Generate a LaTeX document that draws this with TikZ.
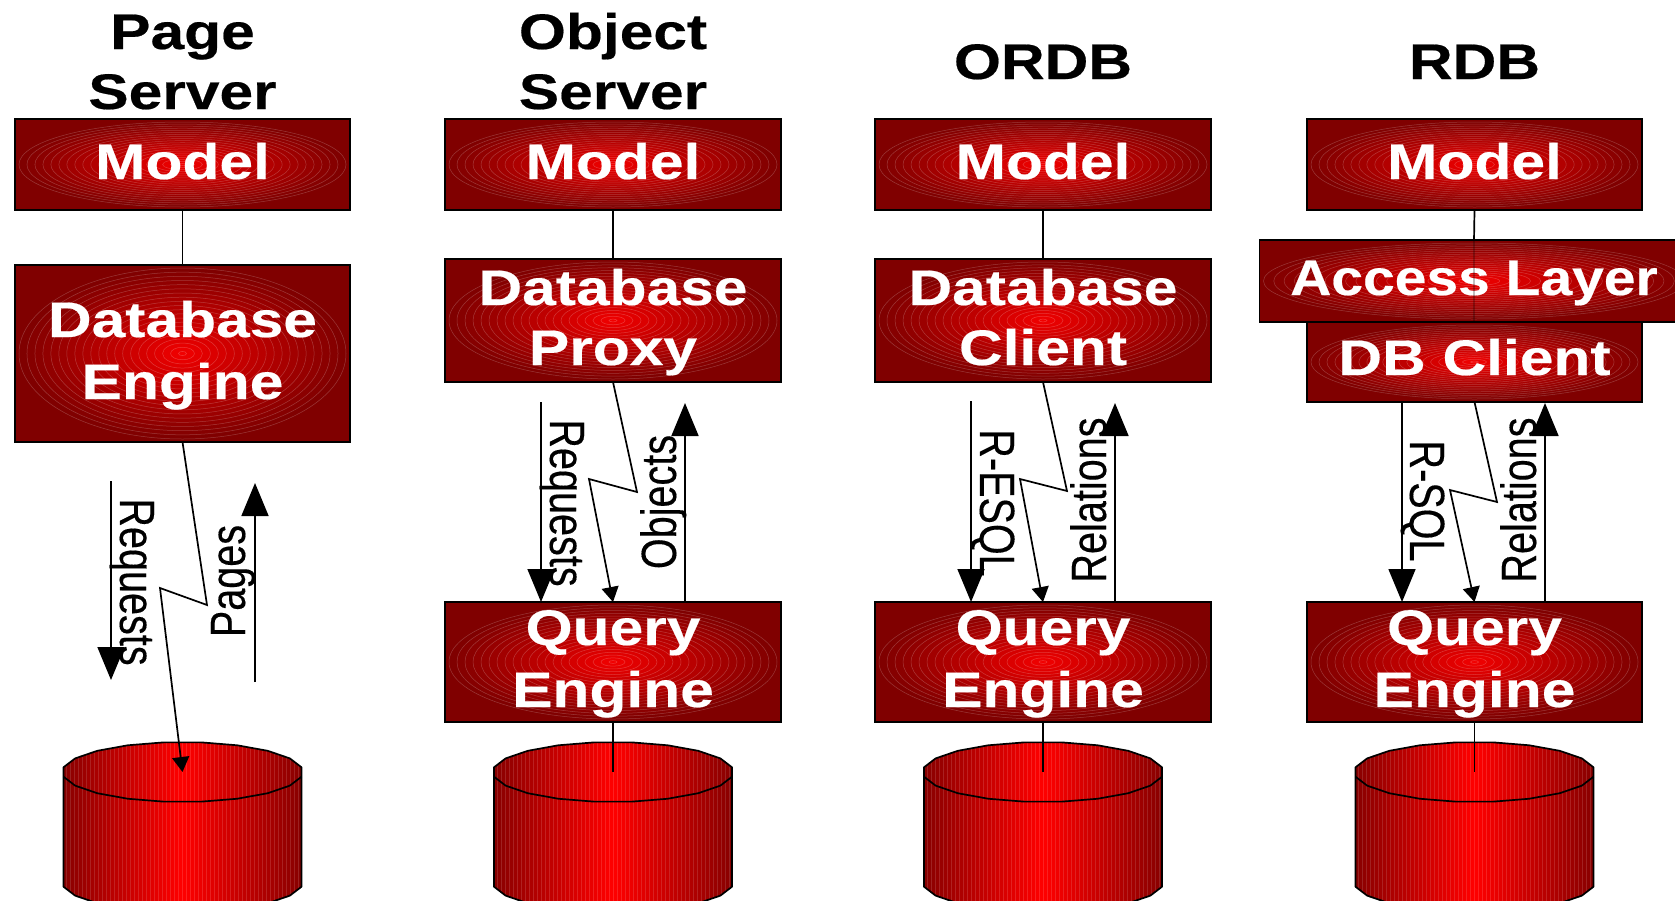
\documentclass[tikz,border=0pt]{standalone}
\usepackage{fontspec}
\usetikzlibrary{arrows.meta}
\newfontfamily\hdfont[FakeStretch=1.21,FakeBold=0.4]{Liberation Sans}
\newfontfamily\hdnarrow[FakeStretch=1.14,FakeBold=0.4]{Liberation Sans}
\newfontfamily\labfont[FakeStretch=0.80,FakeBold=0.25]{Liberation Sans}
\definecolor{deep}{RGB}{128,0,0}
\definecolor{fire}{RGB}{244,0,0}
\definecolor{edgered}{RGB}{135,0,0}
\definecolor{topred}{RGB}{255,0,0}
\tikzset{
  x=1pt,y=-1pt,
  glow/.style 2 args={draw=black,line width=1.7pt,fill=deep,rectangle,inner sep=0pt,outer sep=0pt,
    path picture={
      \foreach \i in {0,...,20}{
        \pgfmathsetmacro\f{1-\i/20.5}
        \pgfmathsetmacro\p{100*(1-\f)}
        \fill[fire!\p!deep] (path picture bounding box.center) ellipse ({(#1)*\f} and {(#2)*\f});
        \draw[white,opacity=0.22,line width=0.5pt] (path picture bounding box.center) ellipse ({(#1)*\f} and {(#2)*\f});
      }
    }},
  boxtext/.style={text=white,anchor=base,align=center,inner sep=0pt,font=\hdfont\bfseries\fontsize{50}{62}\selectfont},
  title/.style={text=black,anchor=base,align=center,inner sep=0pt,font=\hdfont\bfseries\fontsize{50}{60}\selectfont},
  lab/.style={text=black,anchor=base,inner sep=0pt,font=\labfont\fontsize{49.5}{55}\selectfont},
  wire/.style={draw=black,line width=1.7pt},
  bigarrow/.style={wire,-{Triangle[length=33pt,width=27pt]}},
  smallarrow/.style={wire,miter limit=10,-{Triangle[length=15pt,width=17pt]}},
}
% name, cx, y1, y2, w, last baseline, text
\newcommand{\gbox}[7]{%
  \node[glow={#5/2-4}{(#4-#3)/2-3},minimum width=#5,minimum height={#4-#3}] (#1) at (#2,{(#3+#4)/2}) {};
  \node[boxtext] (#1t) at (#2,#6) {#7};
}
% name, cx
\newcommand{\disk}[2]{%
  \coordinate (#1) at (#2,772);
  \begin{scope}
    \clip plot[domain=189:351,samples=10] ({#2+120.5*cos(\x)},{772+30*sin(\x)})
       -- plot[domain=9:171,samples=10] ({#2+120.5*cos(\x)},{882+30*sin(\x)}) -- cycle;
    \foreach \k in {-30,...,29}{
      \pgfmathsetmacro\p{100*(1-abs(\k+0.5)/30)}
      \fill[topred!\p!edgered] ({#2+\k*4},735) rectangle ({#2+\k*4+4.3},915);
      \draw[white,opacity=0.13,line width=0.5pt] ({#2+\k*4},735) -- ({#2+\k*4},915);
    }
  \end{scope}
  \draw[wire,line join=round] plot[domain=189:351,samples=10] ({#2+120.5*cos(\x)},{772+30*sin(\x)})
       -- plot[domain=9:171,samples=10] ({#2+120.5*cos(\x)},{882+30*sin(\x)}) -- cycle;
  \draw[wire,line join=round] plot[domain=9:171,samples=10] ({#2+120.5*cos(\x)},{772+30*sin(\x)});
}
\begin{document}
\begin{tikzpicture}
\path[use as bounding box,clip] (0,0) rectangle (1675,900);

% titles
\node[title] (t1) at (182.5,109) {Page\\Server};
\node[title] (t2) at (613,109) {Object\\Server};
\node[title] (t3) at (1043,79) {ORDB};
\node[title] (t4) at (1474.5,79) {RDB};

% disks
\disk{d1}{182.5}
\disk{d2}{613}
\disk{d3}{1043}
\disk{d4}{1474.5}

% column 1
\gbox{m1}{182.5}{119}{210}{335}{179}{Model}
\gbox{e1}{182.5}{265}{442}{335}{399}{Database\\Engine}
\draw[wire] (m1.south) -- (e1.north);
\coordinate (z1a) at (207,605);
\coordinate (z1b) at (160,588);
\draw[smallarrow] (e1.south) -- (z1a) -- (z1b) -- (d1);
\coordinate (r1a) at (111,481);
\coordinate (r1b) at (111,680);
\draw[bigarrow] (r1a) -- (r1b);
\coordinate (p1a) at (255,682);
\coordinate (p1b) at (255,483);
\draw[bigarrow] (p1a) -- (p1b);
\node[lab,rotate=-90] (l1a) at (120,582) {Requests};
\node[lab,rotate=90] (l1b) at (245,581) {Pages};

% column 2
\gbox{m2}{613}{119}{210}{336}{179}{Model}
\gbox{c2}{613}{259}{382}{336}{365}{Database\\[-2pt]Proxy}
\gbox{q2}{613}{602}{722}{336}{707}{Query\\Engine}
\draw[wire] (m2.south) -- (c2.north);
\draw[wire] (q2.south) -- (d2);
\coordinate (z2a) at (637,492);
\coordinate (z2b) at (589,479);
\draw[smallarrow] (c2.south) -- (z2a) -- (z2b) -- (q2.north);
\coordinate (r2a) at (541,402);
\draw[bigarrow] (r2a) -- (r2a |- q2.north);
\coordinate (p2a) at (685,403);
\draw[bigarrow] (p2a |- q2.north) -- (p2a);
\node[lab,rotate=-90] (l2a) at (550,503) {Requests};
\node[lab,rotate=90] (l2b) at (676,502) {Objects};

% column 3
\gbox{m3}{1043}{119}{210}{336}{179}{Model}
\gbox{c3}{1043}{259}{382}{336}{365}{Database\\[-2pt]Client}
\gbox{q3}{1043}{602}{722}{336}{707}{Query\\Engine}
\draw[wire] (m3.south) -- (c3.north);
\draw[wire] (q3.south) -- (d3);
\coordinate (z3a) at (1067,491);
\coordinate (z3b) at (1020,479);
\draw[smallarrow] (c3.south) -- (z3a) -- (z3b) -- (q3.north);
\coordinate (r3a) at (971,401);
\draw[bigarrow] (r3a) -- (r3a |- q3.north);
\coordinate (p3a) at (1115,403);
\draw[bigarrow] (p3a |- q3.north) -- (p3a);
\node[lab,rotate=-90] (l3a) at (980,503) {R-ESQL};
\node[lab,rotate=90] (l3b) at (1106,500) {Relations};

% column 4
\gbox{m4}{1474.5}{119}{210}{335}{179}{Model}
\gbox{c4}{1474.5}{322}{402}{335}{375}{DB Client}
\gbox{a4}{1474}{240}{322}{429}{295}{\hdnarrow\bfseries Access Layer}
\gbox{q4}{1474.5}{602}{722}{335}{707}{Query\\Engine}
\draw[wire] (m4.south) -- (a4.north);
\draw[wire,draw=black,opacity=0.25] (a4.north) -- (a4.south);
\draw[wire] (q4.south) -- (d4);
\coordinate (z4a) at (1497,502);
\coordinate (z4b) at (1450,490);
\draw[smallarrow] (c4.south) -- (z4a) -- (z4b) -- (q4.north);
\coordinate (r4a) at (1402,402);
\draw[bigarrow] (r4a) -- (r4a |- q4.north);
\coordinate (p4a) at (1545,403);
\draw[bigarrow] (p4a |- q4.north) -- (p4a);
\node[lab,rotate=-90] (l4a) at (1410,501) {R-SQL};
\node[lab,rotate=90] (l4b) at (1536,500) {Relations};
\end{tikzpicture}
\end{document}
